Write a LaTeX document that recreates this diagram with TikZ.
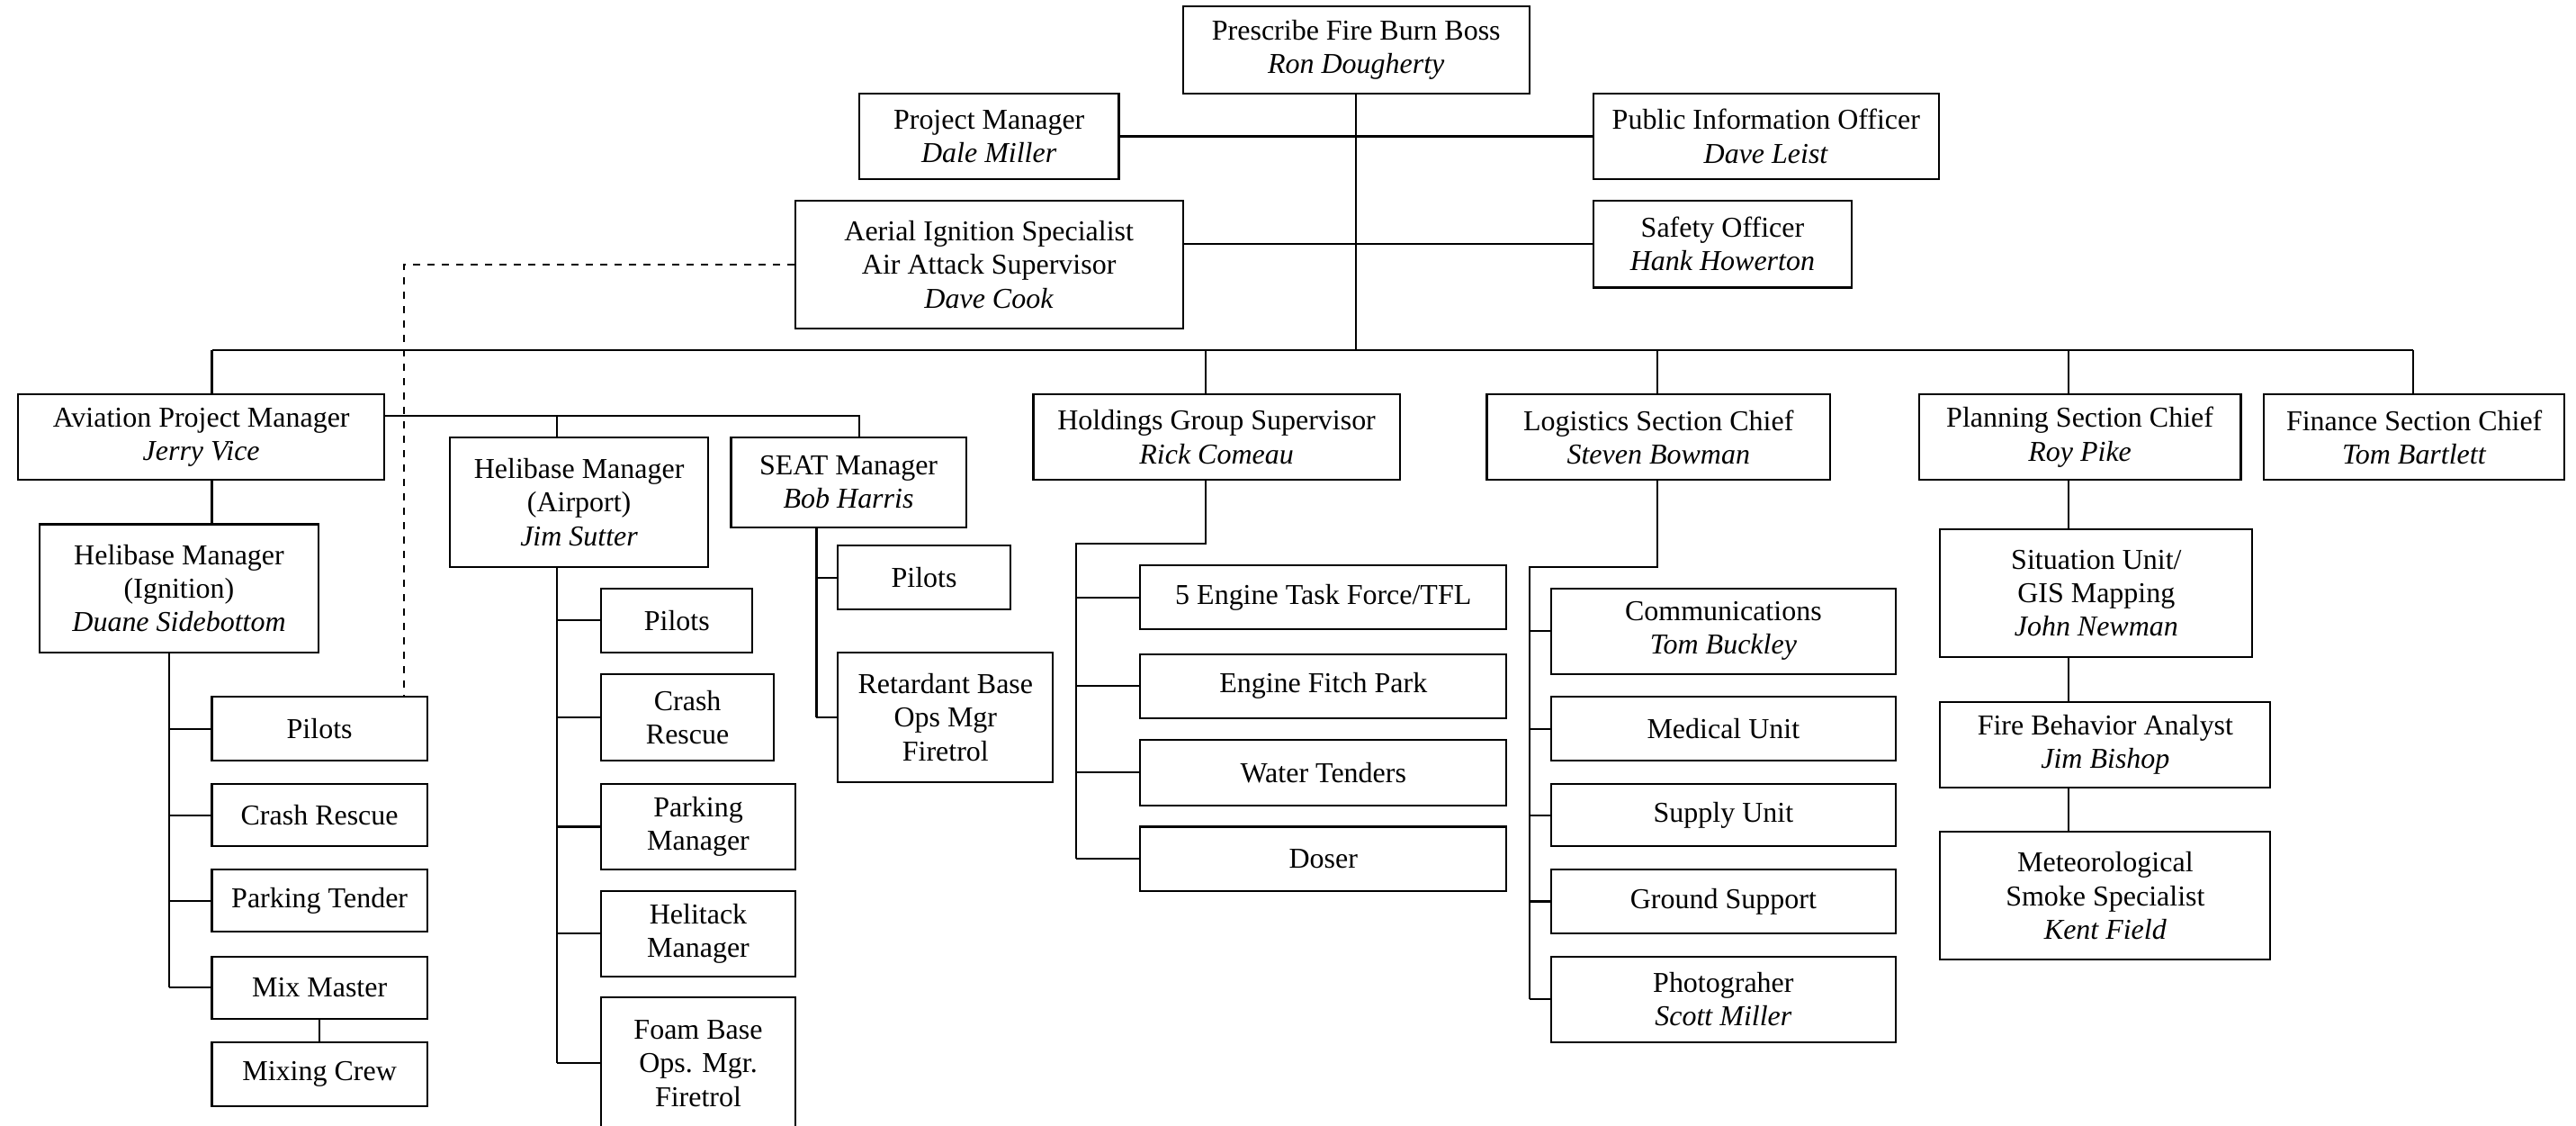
\documentclass[tikz,border=0pt]{standalone}
\usepackage{fontspec}
\setmainfont{Liberation Serif}
\begin{document}
\begin{tikzpicture}[
        x=0.685pt, y=-0.685pt,
        block/.style={
            rectangle,
            draw=black,
            line width=0.8pt,
            align=center,
            inner sep=2pt,
            font=\fontsize{12}{14}\selectfont
        },
        sz/.style 2 args={minimum width=#1*0.685pt, minimum height=#2*0.685pt},
        link/.style={line width=0.8pt},
        dashlink/.style={line width=0.8pt, dashed}
    ]
    \useasboundingbox (0,0) rectangle (1568,685);

    % Command staff
    \node (boss) [block, sz={211}{53}] at (825.5,30.5) {Prescribe Fire Burn Boss\\\textit{Ron Dougherty}};
    \node (pm) [block, sz={158}{52}] at (602,83) {Project Manager\\\textit{Dale Miller}};
    \node (pio) [block, sz={210}{52}] at (1075,83) {Public Information Officer\\\textit{Dave Leist}};
    \node (aerial) [block, sz={236}{78}] at (602,161) {Aerial Ignition Specialist\\Air Attack Supervisor\\\textit{Dave Cook}};
    \node (safety) [block, sz={157}{53}] at (1048.5,148.5) {Safety Officer\\\textit{Hank Howerton}};

    % Sections
    \node (avpm) [block, sz={223}{52}] at (122.5,266) {Aviation Project Manager\\\textit{Jerry Vice}};
    \node (airport) [block, sz={157}{79}] at (352.5,305.5) {Helibase Manager\\(Airport)\\\textit{Jim Sutter}};
    \node (seat) [block, sz={143}{55}] at (516.5,293.5) {SEAT Manager\\\textit{Bob Harris}};
    \node (holdings) [block, sz={223}{52}] at (740.5,266) {Holdings Group Supervisor\\\textit{Rick Comeau}};
    \node (logistics) [block, sz={209}{52}] at (1009.5,266) {Logistics Section Chief\\\textit{Steven Bowman}};
    \node (planning) [block, sz={196}{52}] at (1266,266) {Planning Section Chief\\\textit{Roy Pike}};
    \node (finance) [block, sz={183}{52}] at (1469.5,266) {Finance Section Chief\\\textit{Tom Bartlett}};

    % Helibase (Ignition)
    \node (hbign) [block, sz={170}{78}] at (109,358) {Helibase Manager\\(Ignition)\\\textit{Duane Sidebottom}};
    \node (ign1) [block, sz={131}{39}] at (194.5,443.5) {Pilots};
    \node (ign2) [block, sz={131}{38}] at (194.5,496) {Crash Rescue};
    \node (ign3) [block, sz={131}{38}] at (194.5,548) {Parking Tender};
    \node (mixmaster) [block, sz={131}{38}] at (194.5,601) {Mix Master};
    \node (mixcrew) [block, sz={131}{39}] at (194.5,653.5) {Mixing Crew};

    % Helibase (Airport)
    \node (air1) [block, sz={92}{39}] at (412,377.5) {Pilots};
    \node (air2) [block, sz={105}{53}] at (418.5,436.5) {Crash\\Rescue};
    \node (air3) [block, sz={118}{52}] at (425,503) {Parking\\Manager};
    \node (air4) [block, sz={118}{52}] at (425,568) {Helitack\\Manager};
    \node (air5) [block, sz={118}{80}] at (425,647) {Foam Base\\Ops. Mgr.\\Firetrol};

    % SEAT
    \node (seat1) [block, sz={105}{39}] at (562.5,351.5) {Pilots};
    \node (seat2) [block, sz={131}{79}] at (575.5,436.5) {Retardant Base\\Ops Mgr\\Firetrol};

    % Holdings
    \node (hold1) [block, sz={223}{39}] at (805.5,363.5) {5 Engine Task Force/TFL};
    \node (hold2) [block, sz={223}{39}] at (805.5,417.5) {Engine Fitch Park};
    \node (hold3) [block, sz={223}{40}] at (805.5,470) {Water Tenders};
    \node (hold4) [block, sz={223}{39}] at (805.5,522.5) {Doser};

    % Logistics
    \node (log1) [block, sz={210}{52}] at (1049,384) {Communications\\\textit{Tom Buckley}};
    \node (log2) [block, sz={210}{39}] at (1049,443.5) {Medical Unit};
    \node (log3) [block, sz={210}{38}] at (1049,496) {Supply Unit};
    \node (log4) [block, sz={210}{39}] at (1049,548.5) {Ground Support};
    \node (log5) [block, sz={210}{52}] at (1049,608) {Photograher\\\textit{Scott Miller}};

    % Planning
    \node (situation) [block, sz={190}{78}] at (1276,361) {Situation Unit/\\GIS Mapping\\\textit{John Newman}};
    \node (fba) [block, sz={201}{52}] at (1281.5,453) {Fire Behavior Analyst\\\textit{Jim Bishop}};
    \node (met) [block, sz={201}{78}] at (1281.5,545) {Meteorological\\Smoke Specialist\\\textit{Kent Field}};

    % Branch points
    \coordinate (busav) at (129,213);
    \coordinate (bushold) at (734,213);
    \coordinate (buslog) at (1009,213);
    \coordinate (busplan) at (1259,213);
    \coordinate (busfin) at (1469,213);
    \coordinate (airx) at (339,253);
    \coordinate (seatx) at (523,253);
    \coordinate (ignx) at (103,397);
    \coordinate (seatsp) at (497,321);
    \coordinate (holdx) at (655,331);
    \coordinate (logx) at (931,345);
    \coordinate (dashcorner) at (246,161);

    % Lines
    \draw[link] (boss) -- (boss |- busav);
    \draw[link] (pm.east) -- (pio.west);
    \draw[link] (aerial.east |- safety) -- (safety.west);
    \draw[dashlink] (aerial.west) -- (dashcorner) -- (dashcorner |- ign1.north);

    \draw[link] (busav) -- (busfin);
    \foreach \b/\n in {busav/avpm, bushold/holdings, buslog/logistics, busplan/planning, busfin/finance}
        \draw[link] (\b) -- (\b |- \n.north);

    \draw[link] (avpm.east |- airx) -- (seatx) -- (seatx |- seat.north);
    \draw[link] (airx) -- (airx |- airport.north);
    \draw[link] (busav |- avpm.south) -- (busav |- hbign.north);

    \draw[link] (ignx |- hbign.south) -- (ignx |- mixmaster.west);
    \foreach \n in {ign1, ign2, ign3, mixmaster}
        \draw[link] (ignx |- \n.west) -- (\n.west);
    \draw[link] (mixmaster) -- (mixcrew);

    \draw[link] (airx |- airport.south) -- (airx |- air5.west);
    \foreach \n in {air1, air2, air3, air4, air5}
        \draw[link] (airx |- \n.west) -- (\n.west);

    \draw[link] (seatsp |- seat.south) -- (seatsp |- seat2.west);
    \foreach \n in {seat1, seat2}
        \draw[link] (seatsp |- \n.west) -- (\n.west);

    \draw[link] (bushold |- holdings.south) -- (bushold |- holdx) -- (holdx) -- (holdx |- hold4.west);
    \foreach \n in {hold1, hold2, hold3, hold4}
        \draw[link] (holdx |- \n.west) -- (\n.west);

    \draw[link] (buslog |- logistics.south) -- (buslog |- logx) -- (logx) -- (logx |- log5.west);
    \foreach \n in {log1, log2, log3, log4, log5}
        \draw[link] (logx |- \n.west) -- (\n.west);

    \draw[link] (busplan |- planning.south) -- (busplan |- situation.north);
    \draw[link] (busplan |- situation.south) -- (busplan |- fba.north);
    \draw[link] (busplan |- fba.south) -- (busplan |- met.north);

\end{tikzpicture}
\end{document}
